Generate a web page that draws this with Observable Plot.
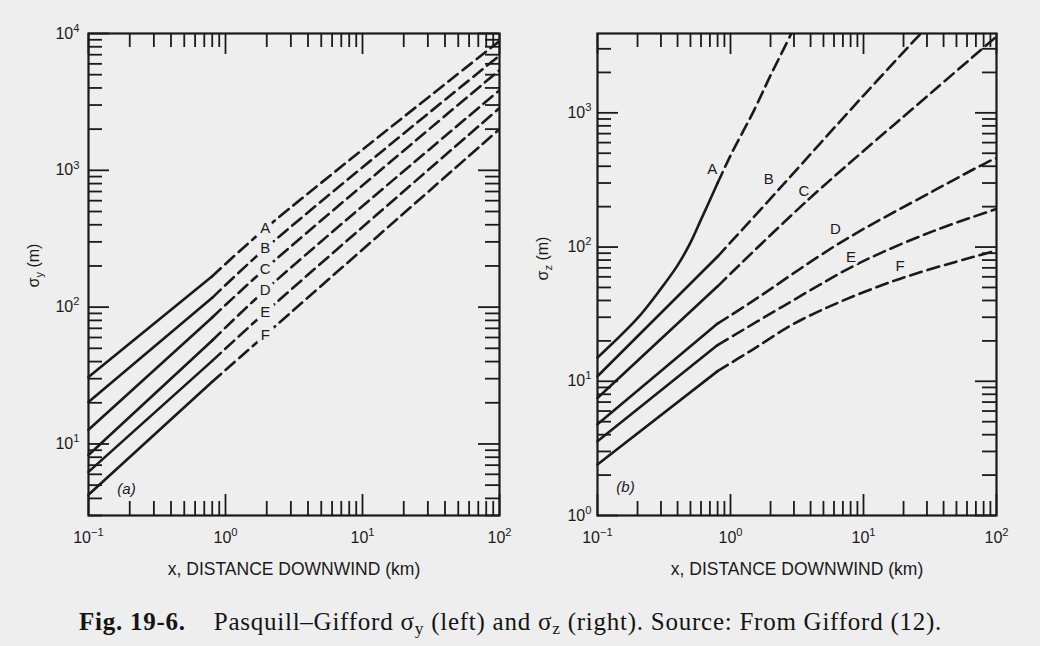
<!DOCTYPE html>
<html><head><meta charset="utf-8">
<script src="https://cdn.jsdelivr.net/npm/d3@7"></script>
<script src="https://cdn.jsdelivr.net/npm/@observablehq/plot@0.6"></script>
<style>
html,body{margin:0;padding:0;background:#eeeeee;}
#wrap{width:1040px;height:646px;position:relative;overflow:hidden;background:#eeeeee;}
#panels{display:flex;position:absolute;left:0;top:0;}
#caption{font-family:"Liberation Serif","Times New Roman",serif;font-size:25px;letter-spacing:0.75px;color:#141414;position:absolute;left:79px;top:608px;white-space:nowrap;}
#caption sub{font-size:70%;vertical-align:-0.25em;line-height:0;}
</style></head><body>
<div id="wrap"><div id="panels"></div>
<div id="caption"><b>Fig. 19-6.</b>&nbsp;&nbsp;&nbsp;&nbsp;Pasquill–Gifford σ<sub>y</sub> (left) and σ<sub>z</sub> (right). Source: From Gifford (12).</div>
</div>
<script>
// ---------- data ----------
const classes = ["A", "B", "C", "D", "E", "F"];
const solidEnd = 0.8; // km: solid up to here, dashed beyond

// Left panel: sigma_y (m) vs x (km)
const syX = [0.1, 0.8, 1.95, 100];
const syA = [30.8, 168, 375, 8800];
const syB = [20.3, 117, 268, 6900];
const syC = [12.7, 84, 191, 5400];
const syD = [8.3, 57, 133, 3850];
const syE = [6.25, 40.5, 91.5, 2850];
const syF = [4.25, 28.5, 62.5, 2000];
const syLabelX = [1.95, 1.95, 1.95, 1.95, 1.95, 1.95];
const syLabelY = [375, 268, 191, 133, 91.5, 62.5];

// Right panel: sigma_z (m) vs x (km)
const szAx = [0.1, 0.2, 0.3, 0.4, 0.5, 0.6, 0.8, 1.0, 1.5, 2, 2.86, 3.2];
const szAv = [15, 29.5, 49, 73, 108, 160, 300, 480, 1040, 1900, 3890, 5000];
const szBx = [0.1, 0.8, 2.38, 10, 27, 30];
const szBv = [10.9, 85, 278, 1346, 3890, 4300];
const szCx = [0.1, 0.8, 3.78, 33.8, 100];
const szCv = [7.5, 51, 222, 1467, 3700];
const szDx = [0.1, 0.8, 1.41, 6.71, 33.8, 85, 100];
const szDv = [4.78, 26.9, 38.5, 108, 263, 428, 460];
const szEx = [0.1, 0.8, 2.52, 9, 33.8, 100];
const szEv = [3.58, 18.6, 36.5, 74.7, 132, 192];
const szFx = [0.1, 0.8, 1.41, 3.36, 16.9, 100];
const szFv = [2.4, 11.9, 16.8, 28.5, 56, 94];
const szLabelX = [0.728, 1.94, 3.56, 6.15, 8.07, 18.8];
const szLabelY = [382, 322, 263, 136, 83.6, 72.5];

// ticks
const xMajor = [0.1, 1, 10, 100];
const xMinor = [0.2,0.3,0.4,0.5,0.6,0.7,0.8,0.9, 2,3,4,5,6,7,8,9, 20,30,40,50,60,70,80,90];
const xTickLabels = ["10^−1", "10^0", "10^1", "10^2"];
const syMajor = [10, 100, 1000, 10000];
const syMinor = [3,4,5,6,7,8,9, 20,30,40,50,60,70,80,90, 200,300,400,500,600,700,800,900, 2000,3000,4000,5000,6000,7000,8000,9000];
const syTickLabels = ["10^1", "10^2", "10^3", "10^4"];
const szMajor = [1, 10, 100, 1000];
const szMinor = [2,3,4,5,6,7,8,9, 20,30,40,50,60,70,80,90, 200,300,400,500,600,700,800,900, 2000,3000];
const szTickLabels = ["10^0", "10^1", "10^2", "10^3"];

// ---------- build ----------
const ink = "#1a1a1a";
const bg = "#eeeeee";
const W = 520, H = 590, MT = 33, MB = 75;

function rows(xs, lists) {
  const solid = [], dash = [];
  classes.forEach((c, k) => {
    const X = Array.isArray(xs[0]) ? xs[k] : xs;
    X.forEach((x, i) => {
      const r = {cls: c, x, v: lists[k][i]};
      if (x <= solidEnd) solid.push(r);
      if (x >= solidEnd) dash.push(r);
    });
  });
  return {solid, dash};
}

function panel(o) {
  const fw = W - o.ml - o.mr, fh = H - MT - MB;
  const maj = 21, mnr = 14;
  const labels = classes.map((c, i) => ({c, x: o.lx[i], y: o.ly[i]}));
  const tk = {stroke: ink, strokeWidth: 1.8};
  const lw = 2.6;
  const mid = {textAnchor: "middle", lineAnchor: "middle"};
  const svg = Plot.plot({
    width: W, height: H,
    marginTop: MT, marginBottom: MB, marginLeft: o.ml, marginRight: o.mr,
    x: {type: "log", domain: [0.1, 100], axis: null},
    y: {type: "log", domain: o.yDomain, axis: null},
    style: {background: "transparent", fontFamily: "'Liberation Sans', Arial, sans-serif", color: ink, overflow: "visible"},
    marks: [
      // ticks: left, right, bottom, top (all pointing inward)
      Plot.tickY(o.yMinor, {y: d => d, insetRight: fw - mnr, ...tk}),
      Plot.tickY(o.yMajor, {y: d => d, insetRight: fw - maj, ...tk}),
      Plot.tickY(o.yMinor, {y: d => d, insetLeft: fw - mnr, ...tk}),
      Plot.tickY(o.yMajor, {y: d => d, insetLeft: fw - maj, ...tk}),
      Plot.tickX(xMinor, {x: d => d, insetTop: fh - mnr, ...tk}),
      Plot.tickX(xMajor, {x: d => d, insetTop: fh - maj, ...tk}),
      Plot.tickX(xMinor, {x: d => d, insetBottom: fh - mnr, ...tk}),
      Plot.tickX(xMajor, {x: d => d, insetBottom: fh - maj, ...tk}),
      Plot.frame({stroke: ink, strokeWidth: 2.2}),
      // curves: solid up to solidEnd, dashed beyond
      Plot.line(o.data.solid, {x: "x", y: "v", z: "cls", stroke: ink, strokeWidth: lw, curve: "catmull-rom"}),
      Plot.line(o.data.dash, {x: "x", y: "v", z: "cls", stroke: ink, strokeWidth: lw, strokeDasharray: "12,6", curve: "catmull-rom", clip: true}),
      Plot.text(labels, {x: "x", y: "y", text: "c", fontSize: 15, fill: ink, stroke: bg, strokeWidth: o.halo, ...mid}),
      // tick labels
      Plot.text(xMajor, {x: d => d, text: (d, i) => xTickLabels[i], frameAnchor: "bottom", dy: 22, fontSize: 16, fill: ink, ...mid}),
      Plot.text(o.yMajor, {y: d => d, text: (d, i) => o.yLabels[i], frameAnchor: "left", dx: -o.ylGap, textAnchor: "end", lineAnchor: "middle", fontSize: 16, fill: ink}),
      // axis titles
      Plot.text(["x, DISTANCE DOWNWIND (km)"], {frameAnchor: "bottom", dy: 54, fontSize: 17.5, fill: ink, ...mid}),
      Plot.text([o.yTitle], {frameAnchor: "left", dx: o.ytDx, dy: o.ytDy, rotate: -90, fontSize: 16, fill: ink, ...mid}),
      Plot.text([o.tag], {frameAnchor: "bottom-left", dx: o.tagDx, dy: o.tagDy, fontSize: 15, fontStyle: "italic", fill: ink, ...mid})
    ]
  });
  fixText(svg);
  return svg;
}

function fixText(svg) {
  d3.select(svg).selectAll("text").each(function () {
    const s = d3.select(this);
    const t = this.textContent;
    let m = t.match(/^10\^(.+)$/);
    if (m && this.children.length === 0) {
      s.text("10");
      s.append("tspan").attr("dy", "-0.62em").attr("font-size", "70%").text(m[1]);
      return;
    }
    m = t.match(/^σ_(.)(.*)$/);
    if (m && this.children.length === 0) {
      s.text("σ");
      s.append("tspan").attr("dy", "4").attr("font-size", "70%").text(m[1]);
      s.append("tspan").attr("dy", "-4").text(m[2]);
    }
  });
}

const left = panel({
  ml: 88, mr: 21, yDomain: [3, 10000],
  yMinor: syMinor, yMajor: syMajor, yLabels: syTickLabels, ylGap: 9,
  data: rows(syX, [syA, syB, syC, syD, syE, syF]),
  lx: syLabelX, ly: syLabelY, halo: 10,
  yTitle: "σ_y (m)", ytDx: -55, ytDy: -9,
  tag: "(a)", tagDx: 38, tagDy: -26
});
const right = panel({
  ml: 77, mr: 44, yDomain: [1, 3900],
  yMinor: szMinor, yMajor: szMajor, yLabels: szTickLabels, ylGap: 6,
  data: rows([szAx, szBx, szCx, szDx, szEx, szFx], [szAv, szBv, szCv, szDv, szEv, szFv]),
  lx: szLabelX, ly: szLabelY, halo: 5,
  yTitle: "σ_z (m)", ytDx: -55, ytDy: -16,
  tag: "(b)", tagDx: 28, tagDy: -28
});
document.getElementById("panels").append(left, right);
</script>
</body></html>
